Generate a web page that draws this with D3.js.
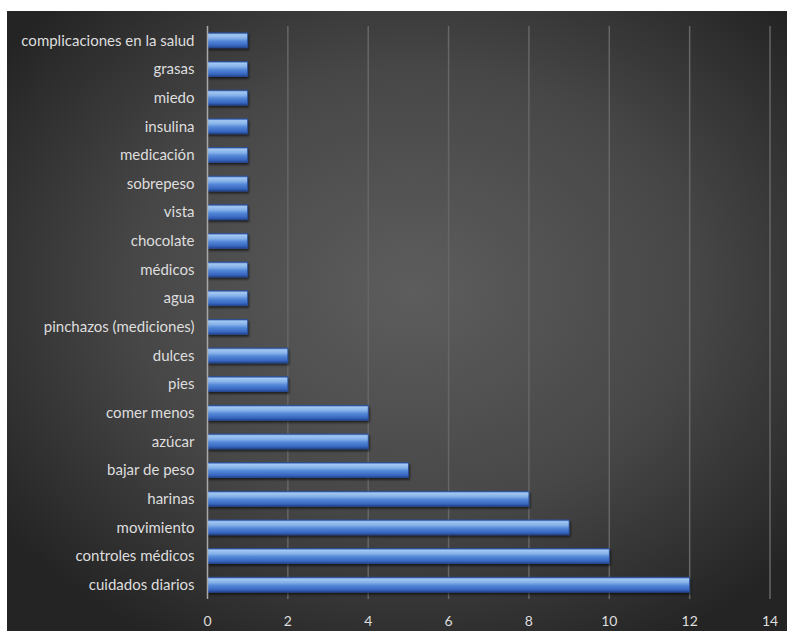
<!DOCTYPE html>
<html>
<head>
<meta charset="utf-8">
<script src="https://cdn.jsdelivr.net/npm/d3@7"></script>
<style>
  body { margin: 0; background: #fff; }
  text { font-family: Lato, "Open Sans", sans-serif; }
</style>
</head>
<body>
<script>
// data, top to bottom as in the chart
var categories = ["complicaciones en la salud", "grasas", "miedo", "insulina", "medicación",
  "sobrepeso", "vista", "chocolate", "médicos", "agua", "pinchazos (mediciones)", "dulces",
  "pies", "comer menos", "azúcar", "bajar de peso", "harinas", "movimiento",
  "controles médicos", "cuidados diarios"];
var values = [1, 1, 1, 1, 1, 1, 1, 1, 1, 1, 1, 2, 2, 4, 4, 5, 8, 9, 10, 12];
var ticks = [0, 2, 4, 6, 8, 10, 12, 14];

var width = 787;
var height = 631;
var svg = d3.select("body").append("svg")
  .attr("width", width)
  .attr("height", height);

var defs = svg.append("defs");

// dark background with lighter centre
var bg = defs.append("radialGradient")
  .attr("id", "bg")
  .attr("cx", "52%").attr("cy", "45%").attr("r", "65%");
bg.append("stop").attr("offset", "0%").attr("stop-color", "#5d5d5d");
bg.append("stop").attr("offset", "55%").attr("stop-color", "#474747");
bg.append("stop").attr("offset", "100%").attr("stop-color", "#242424");

// bar gradient (glossy cylinder look)
var bar = defs.append("linearGradient")
  .attr("id", "bar")
  .attr("x1", 0).attr("y1", 0).attr("x2", 0).attr("y2", 1);
bar.append("stop").attr("offset", "0%").attr("stop-color", "#3a62b0");
bar.append("stop").attr("offset", "12%").attr("stop-color", "#a2c8f2");
bar.append("stop").attr("offset", "35%").attr("stop-color", "#85b1e9");
bar.append("stop").attr("offset", "55%").attr("stop-color", "#5488d8");
bar.append("stop").attr("offset", "85%").attr("stop-color", "#3766bf");
bar.append("stop").attr("offset", "100%").attr("stop-color", "#22448e");

var shadow = defs.append("filter").attr("id", "shadow")
  .attr("x", "-5%").attr("y", "-30%").attr("width", "115%").attr("height", "190%");
shadow.append("feDropShadow")
  .attr("dx", 1).attr("dy", 2).attr("stdDeviation", 1.2)
  .attr("flood-color", "#000").attr("flood-opacity", 0.6);

svg.append("rect")
  .attr("x", 7).attr("y", 11)
  .attr("width", width - 7).attr("height", height - 11)
  .attr("fill", "url(#bg)");

var padding = {top: 26, right: 17, bottom: 32, left: 207.5};

var x = d3.scaleLinear()
  .domain([0, 14])
  .range([padding.left, width - padding.right]);

var y = d3.scaleBand()
  .domain(categories)
  .range([padding.top, height - padding.bottom])
  .paddingInner(0.48)
  .paddingOuter(0.24);

// gridlines
svg.append("g")
  .selectAll("line")
  .data(ticks.slice(1))
  .enter()
  .append("line")
  .attr("x1", function(d){ return x(d); })
  .attr("x2", function(d){ return x(d); })
  .attr("y1", padding.top)
  .attr("y2", height - padding.bottom)
  .attr("stroke", "#666")
  .attr("stroke-width", 1.5);

// bars
svg.append("g")
  .selectAll("rect")
  .data(values)
  .enter()
  .append("rect")
  .attr("x", x(0))
  .attr("y", function(d, i){ return y(categories[i]); })
  .attr("width", function(d){ return x(d) - x(0); })
  .attr("height", y.bandwidth())
  .attr("fill", "url(#bar)")
  .attr("stroke", "#2a4d98")
  .attr("stroke-width", 0.8)
  .attr("filter", "url(#shadow)");

// category axis line
svg.append("line")
  .attr("x1", x(0)).attr("x2", x(0))
  .attr("y1", padding.top)
  .attr("y2", height - padding.bottom)
  .attr("stroke", "#a8a8a8")
  .attr("stroke-width", 1.5);

// category labels
svg.append("g")
  .selectAll("text")
  .data(categories)
  .enter()
  .append("text")
  .attr("x", x(0) - 13)
  .attr("y", function(d){ return y(d) + y.bandwidth() / 2; })
  .attr("dy", "0.35em")
  .attr("text-anchor", "end")
  .attr("fill", "#dedede")
  .attr("font-size", "15px")
  .text(function(d){ return d; });

// value axis labels
svg.append("g")
  .selectAll("text")
  .data(ticks)
  .enter()
  .append("text")
  .attr("x", function(d){ return x(d); })
  .attr("y", 621)
  .attr("dy", "0.35em")
  .attr("text-anchor", "middle")
  .attr("fill", "#dedede")
  .attr("font-size", "14px")
  .text(function(d){ return d; });
</script>
</body>
</html>
